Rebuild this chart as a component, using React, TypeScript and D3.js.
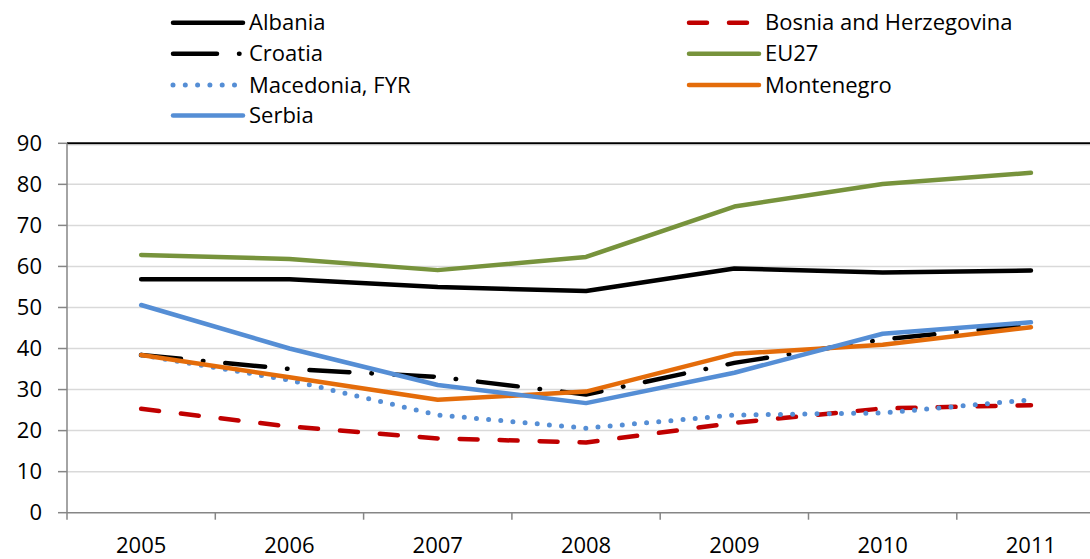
import React from "react";
import * as d3 from "d3";

const years = ["2005", "2006", "2007", "2008", "2009", "2010", "2011"];
const yTicks = [0, 10, 20, 30, 40, 50, 60, 70, 80, 90];

const albania = [56.9, 56.9, 55.0, 54.0, 59.5, 58.5, 59.0];
const bosnia = [25.3, 21.0, 18.1, 17.1, 21.9, 25.4, 26.2];
const croatia = [38.4, 35.0, 33.1, 28.8, 36.5, 42.2, 45.8];
const eu27 = [62.8, 61.8, 59.1, 62.3, 74.6, 80.1, 82.8];
const macedonia = [38.4, 32.3, 23.8, 20.6, 23.8, 24.3, 27.5];
const montenegro = [38.4, 33.0, 27.5, 29.5, 38.7, 40.9, 45.2];
const serbia = [50.6, 40.0, 31.1, 26.7, 34.1, 43.6, 46.4];

type Series = {
  name: string;
  values: number[];
  color: string;
  dash?: string;
  legendDash?: string;
};

const series: Series[] = [
  { name: "Albania", values: albania, color: "#000000" },
  { name: "Bosnia and Herzegovina", values: bosnia, color: "#c00000", dash: "18 22" },
  { name: "Croatia", values: croatia, color: "#000000", dash: "40 22 0.5 22", legendDash: "44 22 0.5 40" },
  { name: "EU27", values: eu27, color: "#77933c" },
  { name: "Macedonia, FYR", values: macedonia, color: "#558ed5", dash: "0 12.2", legendDash: "0 12.3" },
  { name: "Montenegro", values: montenegro, color: "#e46c0a" },
  { name: "Serbia", values: serbia, color: "#558ed5" },
];

// draw order as in the original (Serbia on top)
const drawOrder = ["Albania", "EU27", "Bosnia and Herzegovina", "Macedonia, FYR", "Croatia", "Montenegro", "Serbia"];

const W = 1090;
const H = 559;
const left = 67;
const bandW = 148.3;
const yTop = 143.3;
const yBottom = 512.7;
const font = "'Open Sans', 'Noto Sans', sans-serif";

export default function App() {
  const x = d3
    .scaleBand<string>()
    .domain(years)
    .range([left, left + bandW * years.length])
    .padding(0);
  const y = d3.scaleLinear().domain([0, 90]).range([yBottom, yTop]);

  const line = d3
    .line<number>()
    .x((_, i) => (x(years[i]) as number) + x.bandwidth() / 2)
    .y((d) => y(d));

  const tickXs = years.map((yr) => x(yr) as number);

  const legendCols = [171, 687];
  const legendRows = [22.7, 53.7, 85, 115.5];

  return (
    <svg
      width={W}
      height={H}
      style={{ position: "absolute", left: 0, top: 0, background: "#fff" }}
      fontFamily={font}
    >
      {/* gridlines */}
      {yTicks.slice(1, -1).map((t) => (
        <line key={t} x1={left} x2={W} y1={y(t)} y2={y(t)} stroke="#d9d9d9" strokeWidth={1.5} />
      ))}
      <line x1={left} x2={W} y1={y(90)} y2={y(90)} stroke="#000" strokeWidth={2} />
      <line x1={left} x2={W} y1={y(90) + 1.5} y2={y(90) + 1.5} stroke="#bfbfbf" strokeWidth={1} />

      {/* y axis */}
      <line x1={left} x2={left} y1={yTop} y2={yBottom} stroke="#868686" strokeWidth={1.5} />
      {yTicks.map((t) => (
        <g key={t}>
          <line x1={left - 9} x2={left} y1={y(t)} y2={y(t)} stroke="#868686" strokeWidth={1.5} />
          <text x={42} y={y(t)} dy="0.35em" textAnchor="end" fontSize={22} fill="#000">
            {t}
          </text>
        </g>
      ))}

      {/* x axis */}
      <line x1={left} x2={W} y1={yBottom} y2={yBottom} stroke="#868686" strokeWidth={1.5} />
      {tickXs.map((tx, i) => (
        <line key={i} x1={tx} x2={tx} y1={yBottom} y2={yBottom + 7} stroke="#868686" strokeWidth={1.5} />
      ))}
      {years.map((yr) => (
        <text
          key={yr}
          x={(x(yr) as number) + x.bandwidth() / 2}
          y={545}
          dy="0.35em"
          textAnchor="middle"
          fontSize={22}
          fill="#000"
        >
          {yr}
        </text>
      ))}

      {/* lines */}
      {drawOrder.map((name) => {
        const s = series.find((d) => d.name === name)!;
        return (
          <path
            key={name}
            d={line(s.values) || ""}
            fill="none"
            stroke={s.color}
            strokeWidth={name === "Macedonia, FYR" ? 5 : 4.5}
            strokeDasharray={s.dash}
            strokeLinecap="round"
            strokeLinejoin="round"
          />
        );
      })}

      {/* legend */}
      {series.map((s, i) => {
        const cx = legendCols[i % 2];
        const cy = legendRows[Math.floor(i / 2)];
        return (
          <g key={s.name}>
            <line
              x1={cx + 2}
              x2={cx + 72}
              y1={cy}
              y2={cy}
              stroke={s.color}
              strokeWidth={s.name === "Macedonia, FYR" ? 5 : 4.5}
              strokeDasharray={s.legendDash || s.dash}
              strokeLinecap="round"
            />
            <text x={cx + 78} y={cy} dy="0.35em" fontSize={22} fill="#000">
              {s.name}
            </text>
          </g>
        );
      })}
    </svg>
  );
}
